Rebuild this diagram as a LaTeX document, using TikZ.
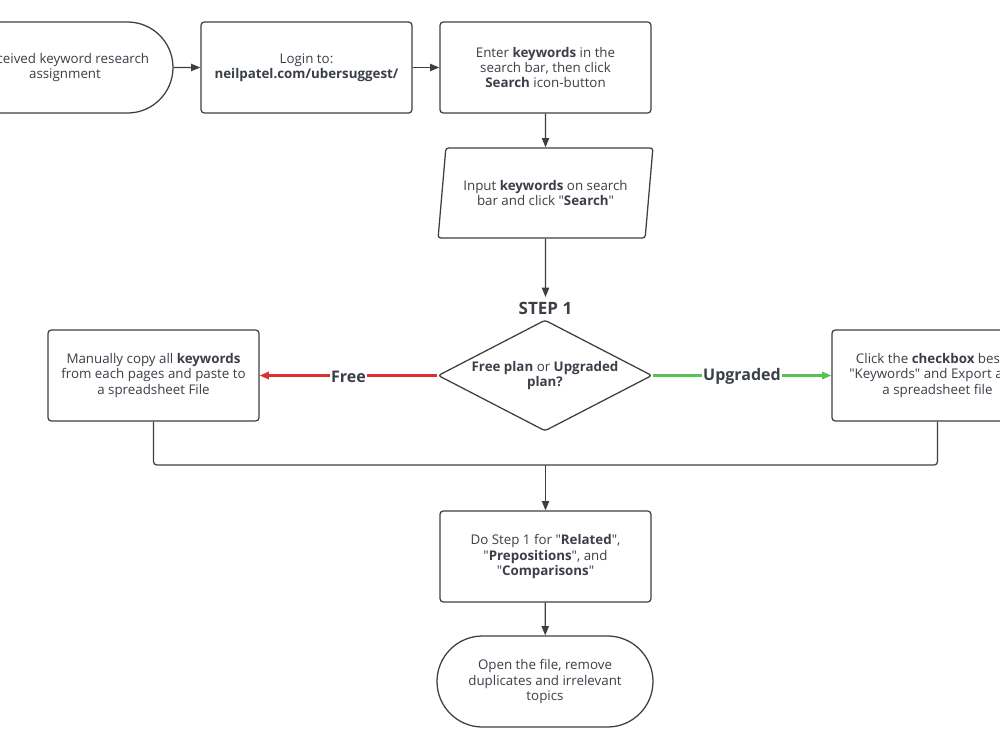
\documentclass[tikz,border=0pt]{standalone}
\usepackage{fontspec}
\setmainfont{Open Sans}[Ligatures=TeXOff]
\usetikzlibrary{shapes.geometric,shapes.misc,arrows.meta}

\definecolor{ink}{HTML}{3B3F47}
\definecolor{edgegray}{HTML}{3F3F3F}
\definecolor{freered}{HTML}{D93030}
\definecolor{upgreen}{HTML}{55C455}

\tikzset{
    base/.style={draw=edgegray, line width=0.95pt, align=center, text=ink,
        inner sep=0pt, font=\fontsize{10}{11.6}\selectfont},
    box/.style={base, rounded corners=2.5pt, minimum width=158.25pt, minimum height=68.25pt},
    term/.style={base, rounded rectangle, minimum width=162pt, minimum height=68.25pt},
    io/.style={base, trapezium, trapezium left angle=76, trapezium right angle=104,
        trapezium stretches=true, rounded corners=2pt, minimum width=161.25pt, minimum height=67.5pt},
    decision/.style={base, diamond, aspect=1.93, rounded corners=2pt,
        minimum width=160.5pt, minimum height=83.25pt},
    choice/.style={fill=white, text=ink, inner sep=1pt, yshift=-1pt, font=\fontsize{12}{14}\bfseries},
    >={Triangle[length=7pt,width=5.5pt]}
}

\begin{document}
\begin{tikzpicture}[x=0.75pt, y=-0.75pt]
    \clip (0,0) rectangle (1000,750);
    \fill[white] (0,0) rectangle (1000,750);

    \node[term] (received) at (65,67.5) {Received keyword research\\assignment};
    \node[box] (login) at (306.5,67.5) {Login to:\\\textbf{neilpatel.com/ubersuggest/}};
    \node[box] (enter) at (545.5,67.5) {Enter \textbf{keywords} in the\\search bar, then click\\\textbf{Search} icon-button};
    \node[io] (input) at (545.5,193) {Input \textbf{keywords} on search\\bar and click "\textbf{Search}"};
    \node[text=ink, font=\fontsize{12.75}{14}\bfseries] (step) at (545.5,308) {STEP 1};
    \node[decision] (plan) at (545,375.5) {\textbf{Free plan} or \textbf{Upgraded}\\\textbf{plan?}};
    \node[box] (manual) at (153.5,375.5) {Manually copy all \textbf{keywords}\\from each pages and paste to\\a spreadsheet File};
    \node[box] (checkbox) at (937.5,375.5) {Click the \textbf{checkbox} beside\\"Keywords" and Export all to\\a spreadsheet file};
    \coordinate (join) at (545.5,465);
    \node[box] (related) at (545.5,556.5) {Do Step 1 for "\textbf{Related}",\\"\textbf{Prepositions}", and\\"\textbf{Comparisons}"};
    \node[term] (open) at (545,681.5) {Open the file, remove\\duplicates and irrelevant\\topics};

    \draw[->, edgegray, line width=0.95pt] (received) -- (login);
    \draw[->, edgegray, line width=0.95pt] (login) -- (enter);
    \draw[->, edgegray, line width=0.95pt] (enter) -- (input);
    \draw[->, edgegray, line width=0.95pt] (input) -- (step);
    \draw[->, freered, line width=1.6pt] (plan.west) -- node[choice] {Free} (manual);
    \draw[->, upgreen, line width=1.6pt] (plan.east) -- node[choice] {Upgraded} (checkbox);
    \draw[edgegray, line width=0.95pt, rounded corners=2.5pt] (manual) |- (join);
    \draw[edgegray, line width=0.95pt, rounded corners=2.5pt] (checkbox) |- (join);
    \draw[->, edgegray, line width=0.95pt] (join) -- (related);
    \draw[->, edgegray, line width=0.95pt] (related) -- (open);
\end{tikzpicture}
\end{document}
